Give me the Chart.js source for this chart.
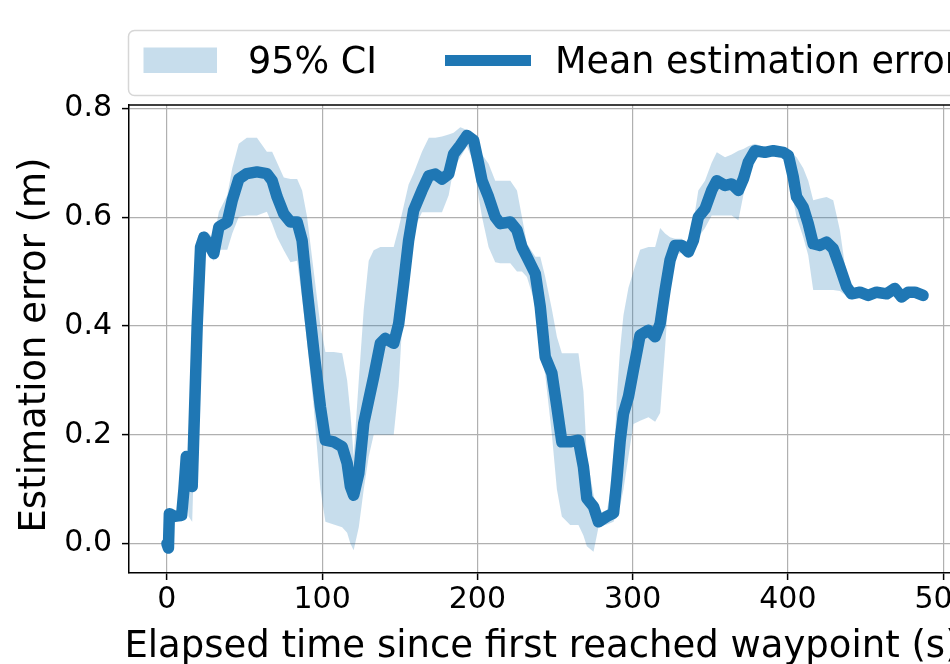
<!DOCTYPE html>
<html>
<head>
<meta charset="utf-8">
<script src="https://cdn.jsdelivr.net/npm/chart.js@4.4.1/dist/chart.umd.min.js"></script>
<style>
  html, body { margin: 0; padding: 0; background: #fff; }
  #wrap { width: 950px; height: 664px; overflow: hidden; position: relative; }
  canvas { display: block; }
</style>
</head>
<body>
<div id="wrap"><canvas id="errChart" width="985" height="664"></canvas></div>
<script>
// elapsed time (s)
const time = [0, 1, 1.6, 5, 9.5, 11, 12.5, 14, 16.3, 19.5, 21.7, 23.8, 27, 30.2, 33.5, 38.9, 42.1, 46.3, 51.5, 58,
    64.4, 67.8, 71.0, 75.3, 79.6, 83.9, 87.1, 90.3, 94.6, 98.9, 102.1, 107.5, 112.9, 116.1, 118.2, 120.3, 123.6, 126.8, 130, 133.2,
    137.5, 140.7, 146.1, 149.3, 152.5, 155.7, 158.9, 164.3, 168.7, 172.9, 177.2, 181.5, 184.7, 189, 193.3, 197.6, 200.8, 203, 207.2, 211.5,
    214.7, 221.2, 225.5, 228.7, 231.9, 237.3, 240.5, 243.7, 248, 251.2, 254.4, 259.8, 265.1, 268.3, 270.5, 274.8, 278, 283.4, 287.7, 289.8,
    292, 294.1, 297.3, 300.5, 304.8, 310.2, 314.5, 317.7, 320.9, 324.1, 327.3, 331.7, 335.9, 339.1, 342.3, 346.6, 350.9, 354.2, 359.5, 363.8,
    368.1, 371.3, 374.5, 378.8, 385.2, 390.6, 397, 400.3, 403.5, 405.6, 409.9, 413.1, 416.3, 420.6, 424.9, 429.2, 433.5, 437.8, 441, 446.4,
    451.7, 457.1, 463.6, 468.9, 473.2, 477.5, 481.8, 487.1];

// mean estimation error (m)
const meanErr = [0.000, -0.008, 0.055, 0.050, 0.052, 0.100, 0.160, 0.110, 0.105, 0.400, 0.545, 0.563, 0.550, 0.533, 0.582, 0.591, 0.631, 0.670, 0.680, 0.683,
    0.680, 0.667, 0.637, 0.606, 0.591, 0.591, 0.557, 0.466, 0.355, 0.251, 0.190, 0.187, 0.178, 0.148, 0.105, 0.089, 0.129, 0.221, 0.264, 0.306,
    0.368, 0.377, 0.368, 0.404, 0.478, 0.557, 0.612, 0.649, 0.676, 0.679, 0.670, 0.679, 0.716, 0.732, 0.750, 0.741, 0.698, 0.667, 0.637, 0.600,
    0.588, 0.591, 0.576, 0.545, 0.527, 0.496, 0.435, 0.343, 0.313, 0.251, 0.187, 0.187, 0.190, 0.141, 0.083, 0.068, 0.040, 0.050, 0.056, 0.117,
    0.190, 0.239, 0.270, 0.319, 0.383, 0.392, 0.380, 0.404, 0.466, 0.521, 0.548, 0.548, 0.536, 0.557, 0.600, 0.615, 0.649, 0.667, 0.658, 0.661,
    0.649, 0.670, 0.701, 0.722, 0.719, 0.722, 0.719, 0.713, 0.673, 0.637, 0.618, 0.588, 0.551, 0.548, 0.554, 0.542, 0.508, 0.472, 0.459, 0.462,
    0.456, 0.462, 0.459, 0.469, 0.453, 0.462, 0.462, 0.456];

// 95% CI lower bound
const ciLow = [-0.004, -0.012, 0.045, 0.044, 0.040, 0.060, 0.100, 0.050, 0.040, 0.350, 0.520, 0.550, 0.530, 0.520, 0.540, 0.540, 0.570, 0.600, 0.603, 0.603,
    0.610, 0.588, 0.563, 0.539, 0.517, 0.520, 0.450, 0.370, 0.250, 0.100, 0.040, 0.035, 0.030, 0.020, 0.000, -0.012, 0.030, 0.100, 0.160, 0.200,
    0.200, 0.200, 0.200, 0.290, 0.450, 0.540, 0.576, 0.609, 0.609, 0.609, 0.609, 0.640, 0.690, 0.710, 0.730, 0.700, 0.637, 0.600, 0.545, 0.517,
    0.515, 0.515, 0.500, 0.500, 0.490, 0.440, 0.360, 0.310, 0.200, 0.100, 0.050, 0.034, 0.034, 0.015, -0.005, -0.015, 0.030, 0.035, 0.040, 0.055,
    0.070, 0.100, 0.160, 0.220, 0.226, 0.232, 0.224, 0.240, 0.360, 0.500, 0.530, 0.535, 0.530, 0.550, 0.563, 0.580, 0.603, 0.603, 0.603, 0.603,
    0.594, 0.640, 0.690, 0.715, 0.712, 0.714, 0.712, 0.700, 0.630, 0.600, 0.563, 0.530, 0.466, 0.466, 0.466, 0.466, 0.464, 0.455, 0.452, 0.456,
    0.450, 0.456, 0.452, 0.462, 0.446, 0.455, 0.455, 0.450];

// 95% CI upper bound
const ciHigh = [0.004, -0.004, 0.062, 0.056, 0.062, 0.125, 0.170, 0.160, 0.130, 0.430, 0.560, 0.575, 0.570, 0.560, 0.610, 0.640, 0.690, 0.735, 0.746, 0.746,
    0.720, 0.720, 0.700, 0.673, 0.670, 0.670, 0.649, 0.600, 0.500, 0.400, 0.352, 0.352, 0.350, 0.300, 0.240, 0.160, 0.300, 0.430, 0.520, 0.539,
    0.545, 0.545, 0.545, 0.580, 0.620, 0.660, 0.680, 0.720, 0.746, 0.746, 0.748, 0.752, 0.755, 0.765, 0.760, 0.746, 0.728, 0.715, 0.698, 0.667,
    0.667, 0.667, 0.649, 0.600, 0.551, 0.527, 0.527, 0.490, 0.430, 0.380, 0.350, 0.350, 0.350, 0.280, 0.160, 0.090, 0.050, 0.060, 0.130, 0.270,
    0.360, 0.420, 0.470, 0.500, 0.540, 0.545, 0.545, 0.580, 0.570, 0.563, 0.560, 0.560, 0.550, 0.590, 0.649, 0.667, 0.700, 0.719, 0.710, 0.715,
    0.722, 0.725, 0.730, 0.735, 0.728, 0.728, 0.728, 0.722, 0.715, 0.710, 0.690, 0.667, 0.631, 0.634, 0.637, 0.631, 0.576, 0.490, 0.468, 0.468,
    0.463, 0.468, 0.466, 0.475, 0.460, 0.469, 0.469, 0.462];

const xTicks = [0, 100, 200, 300, 400, 500];
const yTicks = [0.0, 0.2, 0.4, 0.6, 0.8];
const legendLabels = ['95% CI', 'Mean estimation error'];
const xTitle = 'Elapsed time since first reached waypoint (s)';
const yTitle = 'Estimation error (m)';

const blue = '#1f77b4';
const ciFill = 'rgba(31, 119, 180, 0.25)';
const font = 'DejaVu Sans';

const pts = (ys) => time.map((t, i) => ({ x: t, y: ys[i] }));

// top/right spine, axis titles and a matplotlib style legend box
const frame = {
    id: 'frame',
    afterDraw(chart) {
        const c = chart.ctx, a = chart.chartArea;
        c.save();
        c.strokeStyle = '#000';
        c.lineWidth = 1.5;
        c.beginPath();
        c.moveTo(a.left, a.top);
        c.lineTo(a.right, a.top);
        c.lineTo(a.right, a.bottom);
        c.stroke();

        // axis titles
        c.fillStyle = '#000';
        c.font = '37px "' + font + '"';
        c.textAlign = 'center';
        c.textBaseline = 'alphabetic';
        c.fillText(xTitle, 542, 657);
        c.save();
        c.translate(45, 345);
        c.rotate(-Math.PI / 2);
        c.fillText(yTitle, 0, 0);
        c.restore();

        // legend
        c.fillStyle = 'rgba(255,255,255,0.8)';
        c.strokeStyle = '#d6d6d6';
        c.lineWidth = 1.5;
        c.beginPath();
        c.roundRect(128.5, 30.5, 850, 65, 6);
        c.fill();
        c.stroke();

        c.fillStyle = ciFill;
        c.fillRect(143.5, 47.5, 73.5, 25.5);

        c.strokeStyle = blue;
        c.lineWidth = 11;
        c.beginPath();
        c.moveTo(445, 60.5);
        c.lineTo(531, 60.5);
        c.stroke();

        c.fillStyle = '#000';
        c.font = '36.5px "' + font + '"';
        c.textAlign = 'left';
        c.fillText(legendLabels[0], 248, 73);
        c.fillText(legendLabels[1], 555, 73);
        c.restore();
    }
};

const ctx = document.getElementById('errChart').getContext('2d');
const errChart = new Chart(ctx, {
    type: 'line',
    data: {
        datasets: [{
            label: legendLabels[1],
            data: pts(meanErr),
            borderColor: blue,
            borderWidth: 11.5,
            borderCapStyle: 'round',
            borderJoinStyle: 'round',
            pointRadius: 0,
            fill: false
        }, {
            label: legendLabels[0],
            data: pts(ciHigh),
            borderWidth: 0,
            borderColor: 'rgba(0,0,0,0)',
            backgroundColor: ciFill,
            pointRadius: 0,
            fill: '+1'
        }, {
            label: 'lower',
            data: pts(ciLow),
            borderWidth: 0,
            borderColor: 'rgba(0,0,0,0)',
            pointRadius: 0,
            fill: false
        }]
    },
    options: {
        responsive: false,
        animation: false,
        devicePixelRatio: 1,
        layout: { padding: { top: 105, left: 0, right: 24, bottom: 0 } },
        plugins: {
            legend: { display: false },
            tooltip: { enabled: false }
        },
        scales: {
            x: {
                type: 'linear',
                min: -24.4,
                max: 511.5,
                afterFit: (s) => { s.height = 91; },
                afterBuildTicks: (s) => { s.ticks = xTicks.map(v => ({ value: v })); },
                ticks: {
                    font: { family: font, size: 30 },
                    color: '#000',
                    padding: 2,
                    maxRotation: 0,
                    callback: (v) => String(v)
                },
                grid: { color: '#b0b0b0', lineWidth: 1.2, tickColor: '#000', tickLength: 7, tickWidth: 1.5 },
                border: { display: true, color: '#000', width: 1.5 }
            },
            y: {
                min: -0.054,
                max: 0.806,
                afterFit: (s) => { s.width = 129; },
                afterBuildTicks: (s) => { s.ticks = yTicks.map(v => ({ value: v })); },
                ticks: {
                    font: { family: font, size: 30 },
                    color: '#000',
                    padding: 10,
                    callback: (v) => v.toFixed(1)
                },
                grid: { color: '#b0b0b0', lineWidth: 1.2, tickColor: '#000', tickLength: 7, tickWidth: 1.5 },
                border: { display: true, color: '#000', width: 1.5 }
            }
        }
    },
    plugins: [frame]
});
</script>
</body>
</html>
